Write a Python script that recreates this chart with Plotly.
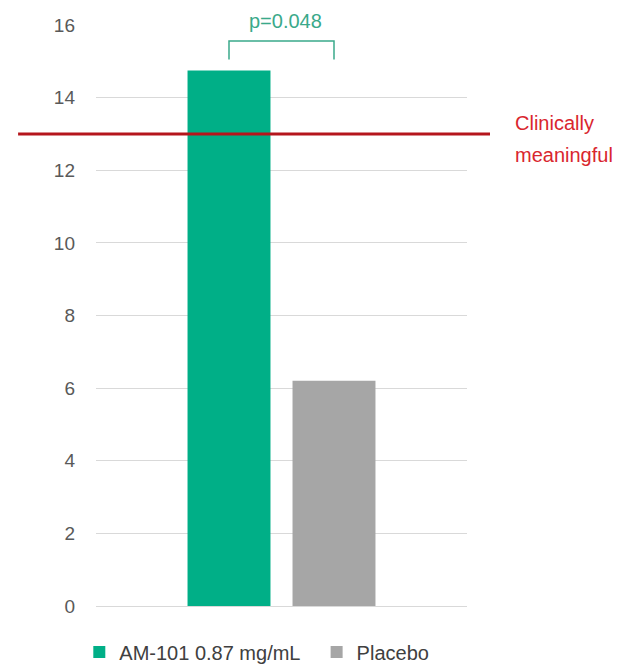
import plotly.graph_objects as go

categories = [""]
series_names = ["AM-101 0.87 mg/mL\u00a0\u00a0", "Placebo"]
series_values = [[14.75], [6.2]]
series_colors = ["#00AF87", "#A6A6A6"]
y_ticks = [0, 2, 4, 6, 8, 10, 12, 14, 16]
threshold_value = 13
threshold_label = ["Clinically", "meaningful"]
p_label = "p=0.048"

FONT = "Liberation Sans, Arial, sans-serif"
BARGAP = 0.434
BARGROUPGAP = 0.21

fig = go.Figure()
for name, vals, col in zip(series_names, series_values, series_colors):
    fig.add_trace(go.Bar(x=categories, y=vals, name=name, marker_color=col,
                         marker_line_width=0))

# bar centers in category units (single category at 0, range [-0.5, 0.5])
group_w = 1 - BARGAP
c1 = -group_w / 4
c2 = group_w / 4
fig.add_shape(type="path",
              path=f"M {c1},15.05 L {c1},15.56 L {c2},15.56 L {c2},15.05",
              xref="x", yref="y", line=dict(color="#3AA98A", width=1.5))
fig.add_annotation(x=0.012, y=1.007, xref="x", yref="paper", text=p_label, showarrow=False,
                   font=dict(family=FONT, size=20, color="#3AA98A"),
                   xanchor="center", yanchor="middle")

fig.add_shape(type="line", xref="paper", yref="y", x0=-0.21, x1=1.062,
              y0=threshold_value, y1=threshold_value,
              line=dict(color="#B5161C", width=3))
fig.add_annotation(x=1.124, y=13.30, xref="paper", yref="y", text=threshold_label[0],
                   showarrow=False, xanchor="left", yanchor="middle",
                   font=dict(family=FONT, size=20, color="#D9262E"))
fig.add_annotation(x=1.124, y=12.42, xref="paper", yref="y", text=threshold_label[1],
                   showarrow=False, xanchor="left", yanchor="middle",
                   font=dict(family=FONT, size=20, color="#D9262E"))

fig.update_layout(
    width=630, height=665,
    margin=dict(l=96, r=163, t=25, b=59, autoexpand=False),
    paper_bgcolor="white", plot_bgcolor="white",
    barmode="group", bargap=BARGAP, bargroupgap=BARGROUPGAP,
    font=dict(family=FONT, color="#595959"),
    showlegend=True,
    legend=dict(orientation="h", x=-0.045, xanchor="left", y=-0.079, yanchor="middle",
                font=dict(family=FONT, size=20, color="#404040"),
                itemclick=False),
    xaxis=dict(showticklabels=False, showgrid=False, zeroline=False, showline=False,
               range=[-0.5, 0.5]),
    yaxis=dict(range=[0, 16], tickvals=y_ticks, showgrid=True, gridcolor="#D9D9D9",
               gridwidth=1, zeroline=True, zerolinecolor="#D9D9D9", zerolinewidth=1,
               showline=False, ticks="", ticklabelstandoff=20,
               tickfont=dict(family=FONT, size=19, color="#595959")),
)

fig.write_html("out.html")
